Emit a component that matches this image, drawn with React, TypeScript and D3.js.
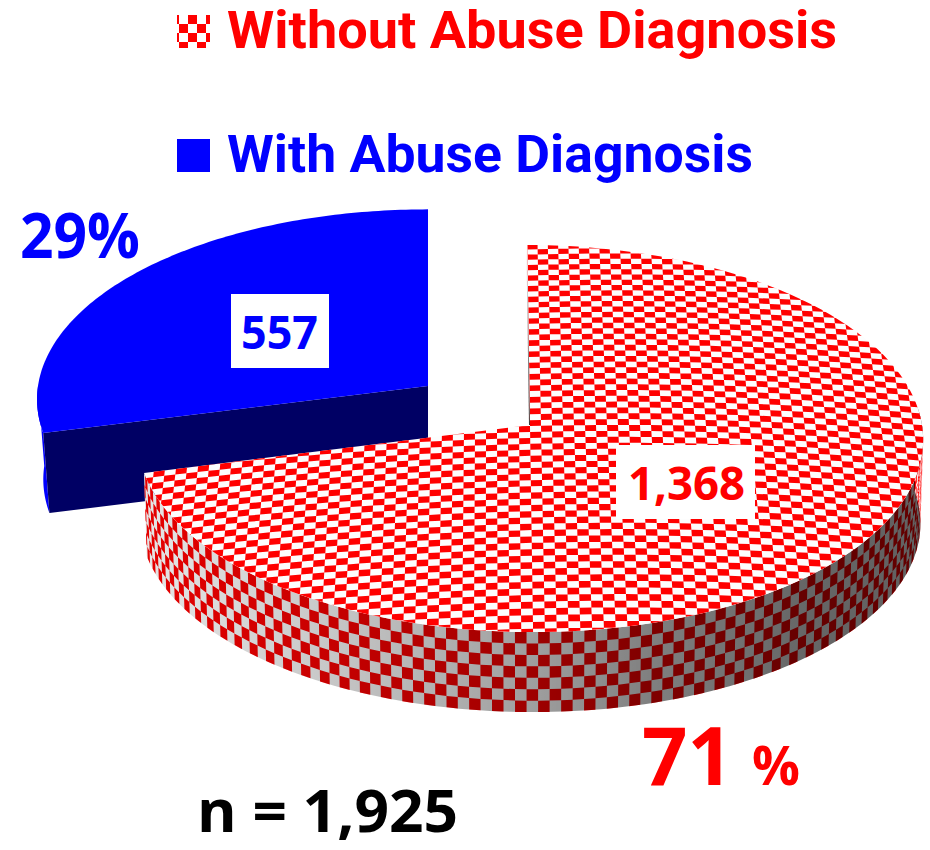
import React from 'react';
import * as d3 from 'd3';

const categories = ['Without Abuse Diagnosis', 'With Abuse Diagnosis'];
const counts = [1368, 557];
const countLabels = ['1,368', '557'];
const percentLabels = ['71', '29%'];
const sampleLabel = 'n = 1,925';

const FONT = '"Open Sans", sans-serif';
const LEGEND_FONT = 'Roboto, sans-serif';

// angles come from the pie layout, clockwise from 12 o'clock
const slices = d3.pie<number>().sort(null)(counts);
const redSlice = slices[0];
const blueSlice = slices[1];

const makeProjection = (cx: number, cy: number, rx: number, ry: number, shear: number, squeeze: number, growth: number) =>
  (u: number, v: number, d = 0): [number, number] => {
    const s = 1 / (1 - 0.07 * v);
    const px = rx * u * s;
    const py = ry * v * s;
    const x = cx + px + shear * py;
    const depth = 80 + growth * (1 - v);
    return [cx + (x - cx) * (1 - squeeze * d), cy + py + depth * d];
  };

const redProj = makeProjection(530, 425, 392, 192.6, 0.015, 0.007, 4);
const blueProj = makeProjection(428, 386, 390, 189, 0, 0.016, 0);

const line = d3.line();
const onRim = (proj: typeof redProj, theta: number, d = 0) =>
  proj(Math.sin(theta), -Math.cos(theta), d);
const rim = (proj: typeof redProj, a0: number, a1: number, d = 0) =>
  d3.range(0, 121).map(i => onRim(proj, a0 + ((a1 - a0) * i) / 120, d));

const sectorPath = (proj: typeof redProj, a0: number, a1: number) =>
  line([proj(0, 0), ...rim(proj, a0, a1)]) + 'Z';
const wallPath = (proj: typeof redProj, a0: number, a1: number) =>
  line([...rim(proj, a0, a1), ...rim(proj, a1, a0, 1)]) + 'Z';

const addQuad = (path: d3.Path, pts: [number, number][]) => {
  path.moveTo(pts[0][0], pts[0][1]);
  pts.slice(1).forEach(p => path.lineTo(p[0], p[1]));
  path.closePath();
};

// checker on the top face, built in disk coordinates so it takes the perspective
const topChecker = () => {
  const du = 11 / 392;
  const dv = 5.9 / 192.6;
  const warp = (u: number, v: number): [number, number] => {
    const [x, y] = redProj(u, v);
    return [x, y + 0.00013 * (x - 620) ** 2];
  };
  const path = d3.path();
  d3.range(-45, 46).forEach(i => {
    d3.range(-42, 46).forEach(j => {
      if ((i + j) % 2 === 0) return;
      addQuad(path, [
        warp(i * du, j * dv),
        warp((i + 1) * du, j * dv),
        warp((i + 1) * du, (j + 1) * dv),
        warp(i * du, (j + 1) * dv),
      ]);
    });
  });
  return path.toString();
};

// checker on the outer wall: columns by angle, rows by depth
const wallChecker = (a0: number, a1: number) => {
  const dTheta = 10.8 / 392;
  const rows = 7;
  const path = d3.path();
  d3.range(Math.ceil((a1 - a0) / dTheta)).forEach(i => {
    d3.range(rows).forEach(j => {
      if ((i + j) % 2 === 0) return;
      const t0 = a0 + i * dTheta;
      const t1 = Math.min(a1, t0 + dTheta);
      addQuad(path, [
        onRim(redProj, t0, j / rows),
        onRim(redProj, t1, j / rows),
        onRim(redProj, t1, (j + 1) / rows),
        onRim(redProj, t0, (j + 1) / rows),
      ]);
    });
  });
  return path.toString();
};

const wallStart = Math.PI * 0.47;

const App = () => {
  const redWall = wallPath(redProj, wallStart, redSlice.endAngle);
  const blueEnd = onRim(blueProj, blueSlice.startAngle);
  const blueEndLow = onRim(blueProj, blueSlice.startAngle, 1);
  const blueFace = line([blueProj(0, 0), blueEnd, blueEndLow, blueProj(0, 0, 1)]) + 'Z';
  const redTop = sectorPath(redProj, redSlice.startAngle, redSlice.endAngle);
  const edgeTop = redProj(0, -1);
  const edgeApex = redProj(0, 0);

  return (
    <svg width={930} height={850} style={{ position: 'absolute', left: 0, top: 0 }} fontFamily={FONT} fontWeight={700}>
      <defs>
        <pattern id="swatch" patternUnits="userSpaceOnUse" x={170} y={15} width={18} height={18}>
          <rect width={18} height={18} fill="#fff" />
          <rect width={9} height={9} fill="#f00" />
          <rect x={9} y={9} width={9} height={9} fill="#f00" />
        </pattern>
        <clipPath id="redTopClip"><path d={redTop} /></clipPath>
        <linearGradient id="wallShade" gradientUnits="userSpaceOnUse" x1={146} x2={923} y1={0} y2={0}>
          <stop offset="0" stopColor="#000" stopOpacity={0.1} />
          <stop offset="0.2" stopColor="#000" stopOpacity={0.2} />
          <stop offset="0.5" stopColor="#000" stopOpacity={0.38} />
          <stop offset="0.65" stopColor="#000" stopOpacity={0.5} />
          <stop offset="0.85" stopColor="#000" stopOpacity={0.6} />
          <stop offset="1" stopColor="#000" stopOpacity={0.62} />
        </linearGradient>
        <linearGradient id="edgeShade" gradientUnits="userSpaceOnUse" x1={0} x2={0} y1={edgeTop[1]} y2={edgeApex[1]}>
          <stop offset="0" stopColor="#444" stopOpacity={0} />
          <stop offset="1" stopColor="#333" stopOpacity={1} />
        </linearGradient>
      </defs>

      {/* detached blue slice */}
      <path d={wallPath(blueProj, blueSlice.startAngle, Math.PI * 1.5)} fill="#00f" />
      <path d={blueFace} fill="#000064" />
      <path d={sectorPath(blueProj, blueSlice.startAngle, blueSlice.endAngle)} fill="#00f" />

      {/* red slice wall */}
      <path d={redWall} fill="#fff" />
      <path d={wallChecker(wallStart, redSlice.endAngle)} fill="#f00" />
      <path d={redWall} fill="url(#wallShade)" />

      {/* red slice top */}
      <line x1={edgeTop[0]} y1={edgeTop[1]} x2={edgeApex[0]} y2={edgeApex[1]} stroke="url(#edgeShade)" strokeWidth={2} />
      <path d={redTop} fill="#fdfdfd" />
      <g clipPath="url(#redTopClip)">
        <path d={topChecker()} fill="#f00" />
      </g>

      {/* legend */}
      <rect x={177} y={15} width={33} height={33} fill="url(#swatch)" />
      <text x={227} y={48} fontSize={51} fontFamily={LEGEND_FONT} fill="#f00" textLength={610} lengthAdjust="spacingAndGlyphs">{categories[0]}</text>
      <rect x={177} y={139} width={33} height={33} fill="#00f" />
      <text x={227} y={172} fontSize={51} fontFamily={LEGEND_FONT} fill="#00f" textLength={526} lengthAdjust="spacingAndGlyphs">{categories[1]}</text>

      {/* value boxes */}
      <rect x={616} y={445} width={139} height={74} fill="#fff" />
      <text x={628} y={500} fontSize={46} fill="#f00" textLength={117} lengthAdjust="spacingAndGlyphs">{countLabels[0]}</text>
      <rect x={231} y={294} width={98} height={74} fill="#fff" />
      <text x={241} y={349} fontSize={46} fill="#00f" textLength={77} lengthAdjust="spacingAndGlyphs">{countLabels[1]}</text>

      {/* percentages and n */}
      <text x={20} y={258} fontSize={63} fill="#00f" textLength={120} lengthAdjust="spacingAndGlyphs">{percentLabels[1]}</text>
      <text x={642} y={785} fontSize={81} fill="#f00" textLength={91} lengthAdjust="spacingAndGlyphs">{percentLabels[0]}</text>
      <text x={752} y={785} fontSize={53} fill="#f00" textLength={48} lengthAdjust="spacingAndGlyphs">%</text>
      <text x={197} y={832} fontSize={59} fill="#000" textLength={261} lengthAdjust="spacingAndGlyphs">{sampleLabel}</text>
    </svg>
  );
};

export default App;
